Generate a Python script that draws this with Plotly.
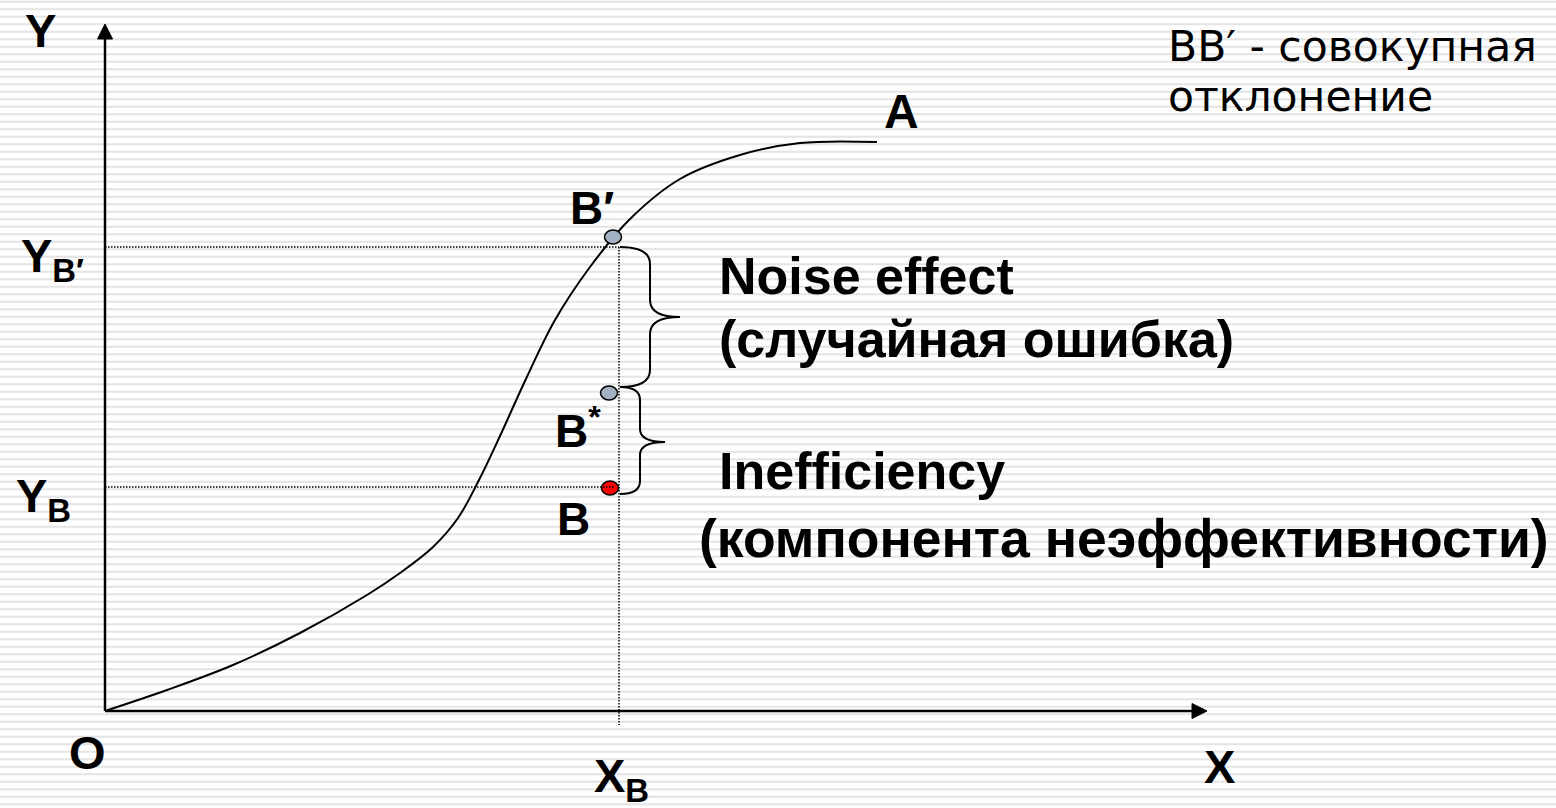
import plotly.graph_objects as go

# ---- data (diagram units = pixel-like coordinates, y grows downward) ----
curve_x = [105, 167, 233, 300, 367, 400, 433, 458, 480, 500, 525, 555, 590, 630, 680, 740, 800, 877]
curve_y = [711, 690, 665, 633, 595, 573, 547, 518, 478, 436, 381, 320, 267, 219, 179, 155, 143, 142]

origin = (105, 711)
y_axis_top = 24
x_axis_end = 1207

point_names = ["B′", "B*", "B"]
point_x = [613, 609, 610]
point_y = [237, 393, 488]
point_colors = ["#a3b2c2", "#a3b2c2", "#ff0000"]

x_B = 619
y_Bp = 247
y_B = 487
guide_bottom = 725

# braces: (x_start, y_top, y_bottom, x_bend, x_tip, y_tip, radius)
braces = [
    (620, 247, 387, 650, 680, 317, 17),
    (620, 387, 494, 640, 665, 442, 13),
]

fig = go.Figure()

W, H = 1556, 808

shapes = []
# striped background
stripe_path = ""
yy = 1.8
while yy < H:
    stripe_path += f"M0,{yy:.1f} L{W},{yy:.1f} "
    yy += 7.5
shapes.append(dict(type="path", path=stripe_path, xref="x", yref="y",
                   line=dict(color="#e4e4e4", width=2), layer="below"))

# dotted guide lines
dot = "1.5px,1.5px"
shapes.append(dict(type="line", x0=origin[0], x1=x_B, y0=y_Bp, y1=y_Bp,
                   line=dict(color="black", width=1.5, dash=dot)))
shapes.append(dict(type="line", x0=x_B, x1=x_B, y0=y_Bp, y1=guide_bottom,
                   line=dict(color="black", width=1.5, dash=dot)))

# axes
shapes.append(dict(type="line", x0=origin[0], x1=origin[0], y0=origin[1], y1=y_axis_top + 12,
                   line=dict(color="black", width=2.5)))
shapes.append(dict(type="line", x0=origin[0], x1=x_axis_end - 12, y0=origin[1], y1=origin[1],
                   line=dict(color="black", width=2.5)))
ah, aw = 15, 7.5
shapes.append(dict(type="path",
                   path=f"M{origin[0]},{y_axis_top} L{origin[0]-aw},{y_axis_top+ah} L{origin[0]+aw},{y_axis_top+ah} Z",
                   fillcolor="black", line=dict(color="black", width=1)))
shapes.append(dict(type="path",
                   path=f"M{x_axis_end},{origin[1]} L{x_axis_end-ah},{origin[1]-aw} L{x_axis_end-ah},{origin[1]+aw} Z",
                   fillcolor="black", line=dict(color="black", width=1)))

# braces
for (x0, yt, yb, x1, xt, ym, r) in braces:
    p = (f"M{x0},{yt} Q{x1},{yt} {x1},{yt+r} L{x1},{ym-r} Q{x1},{ym} {xt},{ym} "
         f"Q{x1},{ym} {x1},{ym+r} L{x1},{yb-r} Q{x1},{yb} {x0},{yb}")
    shapes.append(dict(type="path", path=p, line=dict(color="black", width=2)))

# points (ellipses)
for px, py, c in zip(point_x, point_y, point_colors):
    shapes.append(dict(type="circle", x0=px - 8.5, x1=px + 8.5, y0=py - 7, y1=py + 7,
                       fillcolor=c, line=dict(color="black", width=1.5)))

# dotted Y_B line drawn over the red point
shapes.append(dict(type="line", x0=origin[0], x1=x_B - 4, y0=y_B, y1=y_B,
                   line=dict(color="black", width=1.5, dash=dot)))

fig.add_trace(go.Scatter(x=curve_x, y=curve_y, mode="lines",
                         line=dict(color="black", width=2, shape="spline", smoothing=1.0),
                         hoverinfo="skip"))

BF = "Liberation Sans"
labels = [
    # text, x, y, xanchor, size, family
    ("<b>Y</b>", 23, 30, "left", 47, BF),
    ("<b>O</b>", 67, 752, "left", 47, BF),
    ("<b>X</b>", 1202, 766, "left", 47, BF),
    ("<b>X<sub>B</sub></b>", 592, 779, "left", 47, BF),
    ("<b>Y<sub>B′</sub></b>", 19, 259, "left", 47, BF),
    ("<b>Y<sub>B</sub></b>", 14, 499, "left", 47, BF),
    ("<b>A</b>", 882, 111, "left", 48, BF),
    ("<b>B′</b>", 568, 208, "left", 46, BF),
    ("<b>B<sup>*</sup></b>", 553, 428, "left", 46, BF),
    ("<b>B</b>", 555, 519, "left", 46, BF),
    ("<b>Noise effect</b>", 717, 276, "left", 52, BF),
    ("<b>(случайная ошибка)</b>", 717, 339, "left", 52, BF),
    ("<b>Inefficiency</b>", 717, 471, "left", 52, BF),
    ("<b>(компонента неэффективности)</b>", 697, 538, "left", 53.5, BF),
    ("BB′ - совокупная", 1166, 46, "left", 42.5, "DejaVu Sans"),
    ("отклонение", 1166, 96, "left", 42.5, "DejaVu Sans"),
]
annotations = []
for t, x, y, xa, s, fam in labels:
    annotations.append(dict(text=t, x=x, y=y, xref="x", yref="y", xanchor=xa, yanchor="middle",
                            showarrow=False, font=dict(family=fam, size=s, color="black")))

fig.update_layout(
    width=W, height=H, margin=dict(l=0, r=0, t=0, b=0),
    paper_bgcolor="white", plot_bgcolor="white", showlegend=False,
    xaxis=dict(range=[0, W], visible=False, fixedrange=True),
    yaxis=dict(range=[H, 0], visible=False, fixedrange=True),
    shapes=shapes, annotations=annotations,
)
fig.write_html("out.html", config={"displayModeBar": False},
               post_script="document.body.style.margin='0';document.body.style.overflow='hidden';")
